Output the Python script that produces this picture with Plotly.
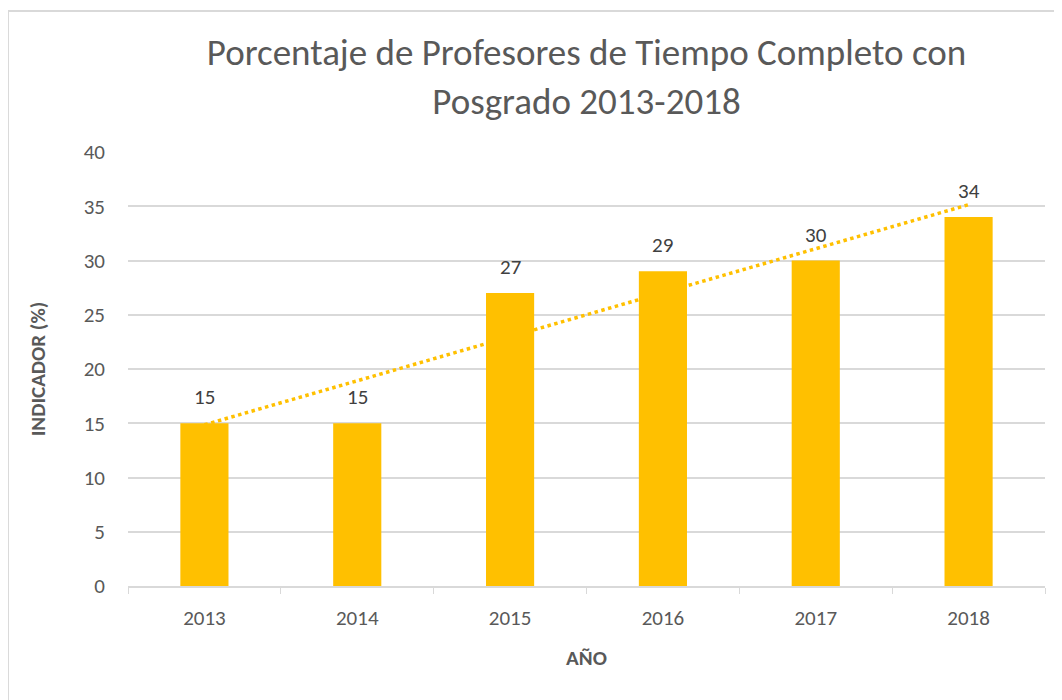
import numpy as np
import plotly.graph_objects as go

years = ["2013", "2014", "2015", "2016", "2017", "2018"]
indicador = [15, 15, 27, 29, 30, 34]

title_text = "Porcentaje de Profesores de Tiempo Completo con<br>Posgrado 2013-2018"
y_title = "<b>INDICADOR (%)</b>"
x_title = "<b>AÑO</b>"

bar_color = "#FFC000"
font_family = "Carlito, Calibri, Lato, sans-serif"

# Linear trendline (least squares, like Excel's)
xi = np.arange(1, len(indicador) + 1)
slope, intercept = np.polyfit(xi, indicador, 1)
trend = slope * xi + intercept

fig = go.Figure()
fig.add_trace(
    go.Bar(
        x=years,
        y=indicador,
        marker=dict(color=bar_color, line=dict(width=0)),
        width=0.315,
        showlegend=False,
    )
)
fig.add_trace(
    go.Scatter(
        x=years,
        y=trend,
        mode="lines",
        line=dict(color=bar_color, width=3.5, dash="dot"),
        showlegend=False,
        hoverinfo="skip",
    )
)

# data labels above the bars (category index, since "2013" would be read as an index)
for i, v in enumerate(indicador):
    fig.add_annotation(
        x=i,
        y=v,
        text=str(v),
        showarrow=False,
        yanchor="bottom",
        yshift=11,
        font=dict(size=21, color="#404040", family=font_family),
    )

# page has an 8px body margin, so margins are shifted to compensate
fig.update_layout(
    width=1062,
    height=700,
    margin=dict(l=120, r=25, t=144, b=122),
    paper_bgcolor="white",
    plot_bgcolor="white",
    font=dict(family=font_family, color="#595959"),
    title=dict(
        text=title_text,
        x=0.5,
        xanchor="center",
        xref="paper",
        y=0.918,
        yanchor="top",
        font=dict(size=37, color="#595959", family=font_family),
    ),
    shapes=[
        dict(
            type="rect",
            xref="paper",
            yref="paper",
            x0=-0.1309,
            x1=1.2,
            y0=-0.5,
            y1=1.325,
            line=dict(color="#d9d9d9", width=2),
            fillcolor="rgba(0,0,0,0)",
            layer="below",
        )
    ],
)

fig.update_xaxes(
    type="category",
    range=[-0.5, len(years) - 0.5],
    title=dict(text=x_title, font=dict(size=21, color="#595959", family=font_family), standoff=20),
    tickfont=dict(size=21, color="#595959"),
    tickangle=0,
    showline=True,
    linecolor="#d9d9d9",
    linewidth=1.5,
    ticks="outside",
    tickson="boundaries",
    ticklen=6,
    tickcolor="#d9d9d9",
    showgrid=False,
    ticklabelstandoff=12,
)
fig.update_yaxes(
    title=dict(text=y_title, font=dict(size=21, color="#595959", family=font_family), standoff=32),
    tickfont=dict(size=21, color="#595959"),
    range=[0, 40],
    dtick=5,
    showgrid=True,
    gridcolor="#d9d9d9",
    gridwidth=1.5,
    zeroline=False,
    showline=False,
    ticks="",
    ticklabelstandoff=22,
)

fig.write_html("out.html")
